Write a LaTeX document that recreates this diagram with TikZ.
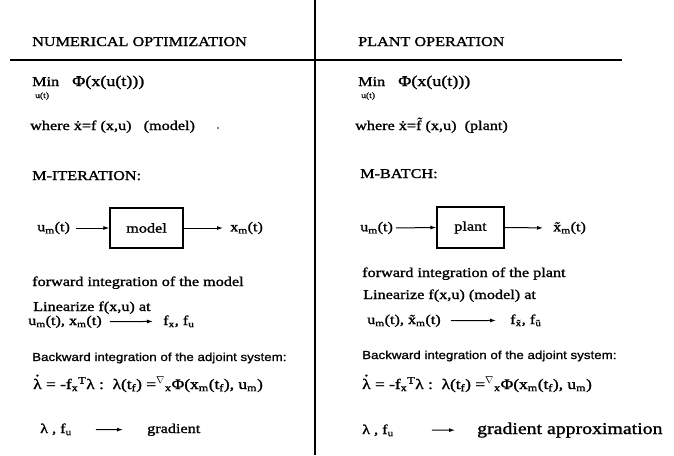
\documentclass[tikz,border=0pt]{standalone}
\usepackage{fontspec}
\usepackage{graphicx}
\setmainfont[FakeStretch=1.2,FakeBold=1.4]{Liberation Serif}
\newfontfamily\hvfont[FakeStretch=1.15,FakeBold=1.0]{Liberation Sans}
\usetikzlibrary{arrows.meta}
\newcommand\dotacc[1]{\ooalign{#1\cr\hidewidth\raisebox{0.88em}{.}\hidewidth\cr}}
\begin{document}
\begin{tikzpicture}[x=1pt,y=-1pt,
  txt/.style={anchor=base west, inner sep=0pt, font=\fontsize{13.5}{16}\selectfont},
  eqn/.style={anchor=base west, inner sep=0pt, font=\fontsize{14.5}{17}\selectfont},
  sans/.style={anchor=base west, inner sep=0pt, font=\hvfont\fontsize{11.6}{13}\selectfont},
  blk/.style={draw, line width=1.3pt, inner sep=0pt, font=\fontsize{13.5}{16}\selectfont},
  flow/.style={-{Latex[length=6pt,width=4pt]}, line width=1pt},
  rulel/.style={line width=1.5pt}]
\useasboundingbox (0,0) rectangle (674,455);
% frame lines
\coordinate (vtop) at (315,0);
\coordinate (vbot) at (315,455);
\coordinate (hl) at (10,60);
\coordinate (hr) at (622,60);
\draw[rulel] (vtop) -- (vbot);
\draw[rulel] (hl) -- (hr);
% headers
\node[txt] (hdL) at (32,46) {NUMERICAL OPTIMIZATION};
\node[txt] (hdR) at (358,46) {PLANT OPERATION};
% Min lines
\node[txt] (minL) at (32,86) {Min};
\node[txt, font=\fontsize{8}{9}\selectfont] (utL) at (35,98) {u(t)};
\node[txt, font=\fontsize{15}{18}\selectfont] (phiL) at (72,86) {Φ(x(u(t)))};
\node[txt] (minR) at (358,86) {Min};
\node[txt, font=\fontsize{8}{9}\selectfont] (utR) at (361,98) {u(t)};
\node[txt, font=\fontsize{15}{18}\selectfont] (phiR) at (398,86) {Φ(x(u(t)))};
% where
\node[txt] (whL) at (30,130) {where \.{x}=f (x,u)\ \ \ (model)};
\fill (218,128) circle (0.9);
\node[txt] (whR) at (355,130) {where \.{x}=\~{f} (x,u)\ \ (plant)};
% titles
\node[txt] (itL) at (32,180) {M-ITERATION:};
\node[txt] (btR) at (360,178) {M-BATCH:};
% block diagrams
\node[blk, minimum width=73pt, minimum height=40pt] (mdl) at (146.5,228) {model};
\node[txt, anchor=west] (uL) at (37,228) {u\textsubscript{m}(t)};
\node[txt, anchor=west] (xL) at (230,228) {x\textsubscript{m}(t)};
\draw[flow, shorten <=6pt] (uL.east) -- (mdl.west);
\draw[flow, shorten >=7pt] (mdl.east) -- (xL.west);
\node[blk, minimum width=67pt, minimum height=41pt] (plt) at (470.5,227.5) {plant};
\node[txt, anchor=west] (uR) at (360,228) {u\textsubscript{m}(t)};
\node[txt, anchor=west] (xR) at (553,228) {\~{x}\textsubscript{m}(t)};
\draw[flow, shorten <=3pt] (uR.east) -- (plt.west);
\draw[flow, shorten >=10pt] (plt.east) -- (xR.west);
% forward / linearize
\node[txt] (fwL) at (32,286) {forward integration of the model};
\node[txt] (fwR) at (362,277) {forward integration of the plant};
\node[txt] (liL) at (33,311) {Linearize f(x,u) at};
\node[txt] (liR) at (363,299) {Linearize f(x,u) (model) at};
\node[txt] (lnL) at (28,325) {u\textsubscript{m}(t), x\textsubscript{m}(t)};
\node[txt] (fL) at (163,325) {f\textsubscript{x}, f\textsubscript{u}};
\draw[flow, shorten <=8pt, shorten >=10pt] (lnL.east) -- (fL.west);
\node[txt] (lnR) at (367,324) {u\textsubscript{m}(t), \~{x}\textsubscript{m}(t)};
\node[txt] (fR) at (510,324) {f\textsubscript{\~{x}}, f\textsubscript{\~{u}}};
\draw[flow, shorten <=10pt, shorten >=14pt] (lnR.east) -- (fR.west);
% backward
\node[sans] (bkL) at (32,361) {Backward integration of the adjoint system:};
\node[sans] (bkR) at (362,359) {Backward integration of the adjoint system:};
\node[eqn] (eqL) at (33,389) {\dotacc{λ} = -f\textsubscript{x}\textsuperscript{T}λ\ :\ \ λ(t\textsubscript{f}) =\textsuperscript{$\nabla$}\textsubscript{x}Φ(x\textsubscript{m}(t\textsubscript{f}), u\textsubscript{m})};
\node[eqn] (eqR) at (362,389) {\dotacc{λ} = -f\textsubscript{x}\textsuperscript{T}λ\ :\ \ λ(t\textsubscript{f}) =\textsuperscript{$\nabla$}\textsubscript{x}Φ(x\textsubscript{m}(t\textsubscript{f}), u\textsubscript{m})};
% gradient
\node[txt] (glL) at (40,433) {λ , f\textsubscript{u}};
\node[txt] (grL) at (147,433) {gradient};
\draw[flow, shorten <=24pt, shorten >=24pt] (glL.east) -- (grL.west);
\node[txt] (glR) at (362,434) {λ , f\textsubscript{u}};
\node[txt, font=\fontsize{16.5}{19}\selectfont] (grR) at (477,434) {gradient approximation};
\draw[flow, shorten <=38pt, shorten >=22pt] (glR.east) -- (grR.west);
\end{tikzpicture}
\end{document}
